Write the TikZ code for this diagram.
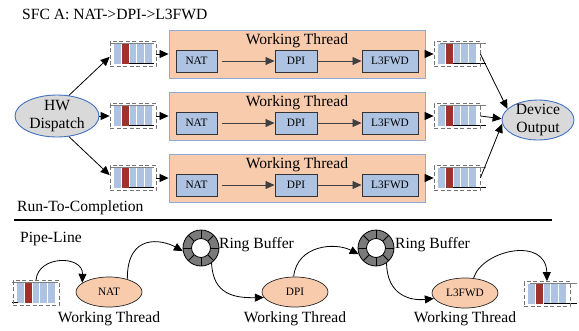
\documentclass[tikz,border=0pt]{standalone}
\usepackage{fontspec}
\setmainfont{Liberation Serif}
\usetikzlibrary{arrows.meta,shapes.geometric}
\definecolor{peach}{HTML}{F8CBAD}
\definecolor{boxblue}{HTML}{8EAADB}
\definecolor{cellblue}{HTML}{ADC3E1}
\definecolor{cellred}{HTML}{A0322B}
\definecolor{ellgray}{HTML}{D9D9D9}
\definecolor{ellblue}{HTML}{4472C4}
\definecolor{ringgray}{HTML}{7A7A7A}
\definecolor{linegray}{HTML}{808080}
\newcommand{\fbig}{\fontsize{15.6}{17.5}\selectfont}
\newcommand{\fsmall}{\fontsize{11.3}{13}\selectfont}
\tikzset{
  conn/.style={-{Triangle[length=9pt,width=8pt]}, line width=0.8pt, black},
  thread/.style={draw=boxblue, fill=peach, line width=0.9pt, minimum width=256pt, minimum height=48pt, inner sep=0pt},
  func/.style={draw=black!80, fill=cellblue, line width=1pt, minimum height=22pt, inner sep=0pt, font=\fsmall},
  bigell/.style={ellipse, draw=ellblue, fill=ellgray, line width=0.9pt, inner sep=-2pt, align=center, font=\fbig},
  pell/.style={ellipse, draw=black!85, fill=peach, line width=0.7pt, minimum width=66pt, minimum height=30pt, inner sep=0pt, font=\fsmall},
  txt/.style={font=\fbig, inner sep=0pt},
  qframe/.style={draw=black!55, dash pattern=on 4pt off 2.5pt, line width=0.7pt, minimum width=46pt, minimum height=25pt, inner sep=0pt},
  ringbuf/.style={circle, draw=black, fill=ringgray, line width=0.8pt, minimum size=36pt, inner sep=0pt,
    path picture={
      \foreach \a in {0,45,...,315}
        \draw[black, line width=0.8pt] (path picture bounding box.center) -- ++(\a:18pt);
      \draw[black, fill=white, line width=0.8pt] (path picture bounding box.center) circle[radius=9.5pt];
    }},
  pics/queue/.style n args={4}{code={
     \fill[cellblue] (-19,-10) rectangle (19,9.5);
     \fill[cellred] (-11.5,-10) rectangle (-4,10);
     \foreach \x in {-11.5,-4,3.6,11.2} \draw[white, line width=0.9pt] (\x,-10) -- (\x,9.5);
     \draw[linegray, line width=1.6pt] (#1,-10.5) -- (#2,-10.5);
     \draw[black, line width=0.9pt] (#3,9.5) -- (#4,9.5);
     \node[qframe] (-f) at (0,0) {};
  }},
}
\begin{document}
\begin{tikzpicture}[x=1pt,y=-1pt]
\useasboundingbox (0,0) rectangle (579,330);
\node[txt, anchor=base west] (title) at (22,19.5) {SFC A: NAT->DPI->L3FWD};

\foreach \i/\y in {1/54,2/116,3/178}{
  \node[thread] (t\i) at (297,\y) {};
  \node[txt, anchor=base] (wt\i) at (297,\y-10) {Working Thread};
  \node[func, minimum width=41pt] (nat\i) at (196.5,\y+7) {NAT};
  \node[func, minimum width=42pt] (dpi\i) at (296,\y+7) {DPI};
  \node[func, minimum width=56pt] (fwd\i) at (390,\y+7) {L3FWD};
  \draw[conn, draw=black!75, shorten <=4pt] (nat\i) -- (dpi\i);
  \draw[conn, draw=black!75] (dpi\i) -- (fwd\i);
  \pic (ql\i) at (133,\y) {queue={-22}{21}{-4}{21}};
  \pic (qr\i) at (457,\y) {queue={-17}{29}{-4}{29}};
  \draw[conn] (ql\i-f) -- (t\i);
  \draw[conn] (t\i) -- (qr\i-f);
}

\node[bigell, minimum width=84pt, minimum height=42pt] (hw) at (57,116) {HW\\Dispatch};
\node[bigell, minimum width=72pt, minimum height=40pt] (dev) at (538,120) {Device\\Output};

\draw[conn] (hw.60) -- (ql1-f.187);
\draw[conn] (hw) -- (ql2-f);
\draw[conn] (hw.-60) -- (ql3-f.173);

\draw[conn] (qr1-f.east) -- (dev.160);
\draw[conn] (qr2-f.east) -- (dev.178);
\draw[conn] (qr3-f.east) -- (dev.186);

\node[txt, anchor=base west] (rtc) at (17,211) {Run-To-Completion};
\draw[line width=1.2pt] (14,220) -- (552,220);
\node[txt, anchor=base west] (pl) at (20,242) {Pipe-Line};

\pic (qp1) at (36,293) {queue={-24}{22}{-24}{-18}};
\node[pell] (pnat) at (109,292) {NAT};
\node[ringbuf] (rb1) at (201,248) {};
\node[txt, anchor=base west] (rbl1) at (219,248) {Ring Buffer};
\node[pell] (pdpi) at (295,292) {DPI};
\node[ringbuf] (rb2) at (376,248) {};
\node[txt, anchor=base west] (rbl2) at (395,248) {Ring Buffer};
\node[pell] (pfwd) at (465,293) {L3FWD};
\pic (qp2) at (547,294) {queue={-17}{30}{-3}{30}};

\node[txt, anchor=base] (pw1) at (109,322) {Working Thread};
\node[txt, anchor=base] (pw2) at (295,322) {Working Thread};
\node[txt, anchor=base] (pw3) at (465,322) {Working Thread};

\draw[conn] (qp1-f.north) .. controls (38,255) and (83,255) .. (pnat.161);
\draw[conn] (pnat.35) .. controls (127,232) and (163,240) .. (rb1.190);
\draw[conn] (rb1.-55) .. controls (213,295) and (235,298) .. (pdpi.190);
\draw[conn] (pdpi.95) .. controls (297,245) and (335,242) .. (rb2.200);
\draw[conn] (rb2.-55) .. controls (387,295) and (410,301) .. (pfwd.190);
\draw[conn] (pfwd.60) .. controls (482,250) and (546,236) .. (qp2-f.north);
\end{tikzpicture}
\end{document}
